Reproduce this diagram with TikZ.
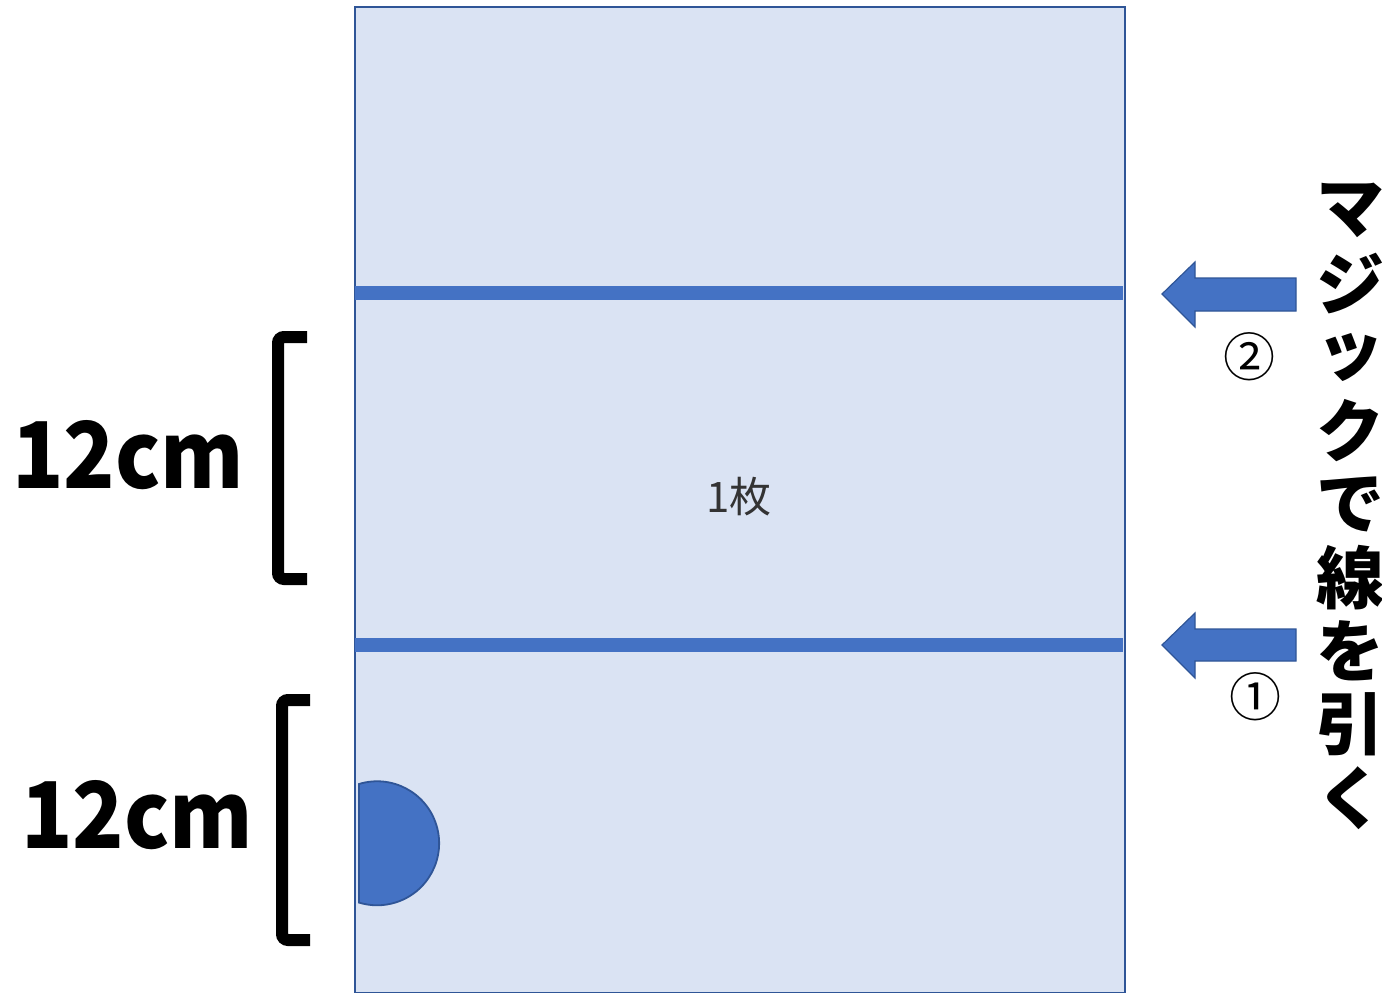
\documentclass[tikz,border=0pt]{standalone}
\usepackage{fontspec}
\newfontfamily\jp{Noto Sans CJK JP}
\usetikzlibrary{calc}
\definecolor{paper}{HTML}{DAE3F3}
\definecolor{edge}{HTML}{2F5597}
\definecolor{accent}{HTML}{4472C4}
\definecolor{txt}{HTML}{333333}
\tikzset{
  magic/.style={accent, line width=14pt},
  bracket/.style={black, line width=12pt, rounded corners=6pt},
  bigarrow/.style={fill=accent, draw=edge, line width=1.2pt, line join=miter},
  sizelabel/.style={font=\jp\bfseries\fontsize{92}{92}\selectfont, inner sep=0, xscale=0.92},
  vchar/.style={font=\jp\bfseries\fontsize{68}{68}\selectfont, inner sep=0},
  numlabel/.style={font=\jp\fontsize{52}{52}\selectfont, inner sep=0},
}
\begin{document}
\begin{tikzpicture}[x=1pt,y=-1pt]
\useasboundingbox (0,0) rectangle (1382,993);
\fill[white] (0,0) rectangle (1382,993);
% sheet
\node[draw=edge, fill=paper, line width=2pt, minimum width=770pt, minimum height=986pt, inner sep=0, anchor=north west] (sheet) at (354,6) {};
% lines
\coordinate (l2a) at (355,293); \coordinate (l2b) at (1123,293);
\coordinate (l1a) at (355,645); \coordinate (l1b) at (1123,645);
\draw[magic] (l2a) -- (l2b);
\draw[magic] (l1a) -- (l1b);
% label
\node[font=\jp\fontsize{42}{42}\selectfont, text=txt, inner sep=0] (one) at (739,497) {1枚};
% half disc
\filldraw[fill=accent, draw=edge, line width=1.8pt] (359,784) arc[start angle=-107, end angle=107, radius=62] -- cycle;
% arrows
\draw[bigarrow] (1162,294) -- (1195,262) -- (1195,278) -- (1296,278) -- (1296,311) -- (1195,311) -- (1195,327) -- cycle;
\draw[bigarrow] (1162,645) -- (1195,613) -- (1195,629) -- (1296,629) -- (1296,661) -- (1195,661) -- (1195,678) -- cycle;
\node[numlabel] (n2) at (1249,357) {②};
\node[numlabel] (n1) at (1255,697) {①};
% brackets
\draw[bracket] (307,337) -- (278,337) -- (278,579) -- (307,579);
\draw[bracket] (310,700) -- (282,700) -- (282,940) -- (310,940);
\node[sizelabel] (s1) at (128,455) {12cm};
\node[sizelabel] (s2) at (137,815) {12cm};
% vertical text
\foreach \c [count=\i from 0] in {マ,ジ,ッ,ク,で,線,を,引,く} {
  \node[vchar] (v\i) at (1350,{210+73.5*\i}) {\c};
}
\end{tikzpicture}
\end{document}
